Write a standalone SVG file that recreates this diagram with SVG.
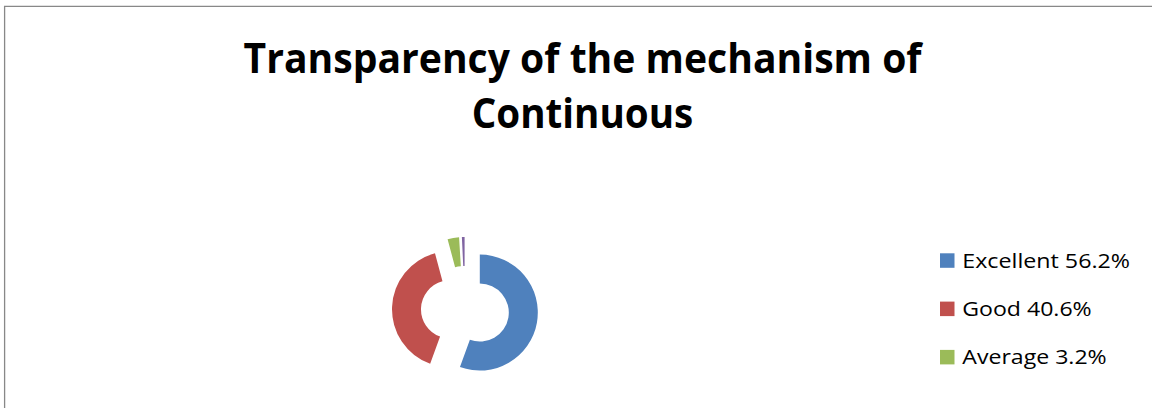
<svg xmlns="http://www.w3.org/2000/svg" width="1152" height="408" viewBox="0 0 1152 408">
<style>
.title{font-family:"Open Sans","Noto Sans","Liberation Sans",sans-serif;font-weight:bold;font-size:42px;fill:#000}
.leg{font-family:"Open Sans","Noto Sans","Liberation Sans",sans-serif;font-size:20px;fill:#000}
.border{fill:none;stroke:#888;stroke-width:1.3}
</style>
<rect width="1152" height="408" fill="#fff"/>
<path class="border" d="M4.6,408 V6.4 H1152"/>
<g id="title">
<text class="title" x="243.5" y="72.7" textLength="678" lengthAdjust="spacingAndGlyphs">Transparency of the mechanism of</text>
<text class="title" x="471.7" y="127.7" textLength="221.6" lengthAdjust="spacingAndGlyphs">Continuous</text>
</g>
<g id="donut">
<path id="slice-excellent" fill="#4F81BD" d="M479.8,254.6 A58,58 0 1 1 459.96,367.10 L469.88,339.85 A29,29 0 1 0 479.8,283.6 Z"/>
<path id="slice-good" fill="#C0504D" d="M430.16,363.80 A58,58 0 0 1 434.99,253.28 L442.49,281.29 A29,29 0 0 0 440.08,336.55 Z"/>
<path id="slice-average" fill="#9BBB59" d="M447.59,239.18 A58,58 0 0 1 459.06,237.31 L460.83,266.25 A29,29 0 0 0 455.09,267.19 Z"/>
<path id="slice-other" fill="#8064A2" d="M461.87,237.06 A58,58 0 0 1 464.6,237 L464.6,266 A29,29 0 0 0 463.23,266.03 Z"/>
</g>
<g id="legend">
<g id="legend-excellent"><rect x="940" y="253.3" width="14.5" height="14.5" fill="#4F81BD"/><text class="leg" x="962.3" y="267.7" textLength="167.7" lengthAdjust="spacingAndGlyphs">Excellent 56.2%</text></g>
<g id="legend-good"><rect x="940" y="301.6" width="14.5" height="14.5" fill="#C0504D"/><text class="leg" x="962.3" y="316" textLength="129.4" lengthAdjust="spacingAndGlyphs">Good 40.6%</text></g>
<g id="legend-average"><rect x="940" y="349.9" width="14.5" height="14.5" fill="#9BBB59"/><text class="leg" x="962.3" y="364.3" textLength="144.4" lengthAdjust="spacingAndGlyphs">Average 3.2%</text></g>
</g>
</svg>
